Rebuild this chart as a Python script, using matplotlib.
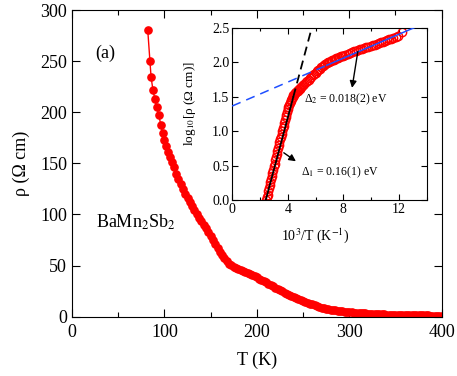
import matplotlib
matplotlib.use("Agg")
import matplotlib.pyplot as plt
import numpy as np
from matplotlib.ticker import MultipleLocator, FormatStrFormatter

plt.rcParams['font.family'] = ['Liberation Serif', 'DejaVu Serif']
plt.rcParams['mathtext.fontset'] = 'stix'

# ---- main data: rho(T) ----
T_K = [82, 84.3, 85.6, 87.6, 89.6, 91.8, 94, 96, 98, 100, 102, 104, 106, 108,
       110, 112.5, 115, 117.5, 120, 122.5, 125, 127.5, 130, 132.5, 135, 137.5, 140, 142.5,
       145, 147.5, 150, 152.5, 155, 157.5, 160, 162.5, 165, 167.5, 170, 172.5, 175, 177.5,
       180, 182.5, 185, 187.5, 190, 192.5, 195, 197.5, 200, 202.5, 205, 207.5, 210, 212.5,
       215, 217.5, 220, 222.5, 225, 227.5, 230, 232.5, 235, 237.5, 240, 242.5, 245, 247.5,
       250, 252.5, 255, 257.5, 260, 262.5, 265, 267.5, 270, 272.5, 275, 277.5, 280, 282.5,
       285, 287.5, 290, 292.5, 295, 297.5, 300, 302.5, 305, 307.5, 310, 312.5, 315, 317.5,
       320, 322.5, 325, 327.5, 330, 332.5, 335, 337.5, 340, 342.5, 345, 347.5, 350, 352.5,
       355, 357.5, 360, 362.5, 365, 367.5, 370, 372.5, 375, 377.5, 380, 382.5, 385, 387.5,
       390, 392.5, 395, 397.5, 400]
rho = [280, 250, 234, 222, 213, 205, 197, 188, 180, 173, 167, 161, 156, 151,
       146, 140, 135, 130, 125, 120, 116, 112, 108, 104, 100, 97, 94, 90,
       87, 83, 79, 75, 71, 67, 63, 60, 57, 54.5, 52, 50.5, 49, 47.5,
       46.5, 45.5, 44.5, 43.5, 42.5, 41.5, 40.5, 39.5, 38.5, 37.3, 36, 34.8, 33.5, 32.2,
       31, 29.7, 28.5, 27.2, 26, 24.7, 23.5, 22.2, 21, 20, 19, 18, 17, 16,
       15, 14.2, 13.5, 12.7, 12, 11.2, 10.5, 9.7, 9, 8.5, 8, 7.5, 7, 6.6,
       6.2, 5.8, 5.5, 5.2, 4.9, 4.6, 4.4, 4.2, 4.0, 3.8, 3.6, 3.45, 3.3, 3.15,
       3.0, 2.9, 2.75, 2.6, 2.5, 2.4, 2.3, 2.2, 2.1, 2.0, 1.95, 1.85, 1.8, 1.75,
       1.7, 1.65, 1.6, 1.55, 1.5, 1.45, 1.4, 1.35, 1.3, 1.28, 1.25, 1.22, 1.2, 1.17,
       1.15, 1.12, 1.1, 1.07, 1.05]

# ---- inset data: log10(rho) vs 1000/T ----
inv_T = [2.45, 2.50, 2.55, 2.60, 2.65, 2.70, 2.75, 2.80, 2.85, 2.90, 2.95, 3.00, 3.05, 3.10,
         3.15, 3.20, 3.25, 3.30, 3.35, 3.40, 3.45, 3.50, 3.55, 3.60, 3.65, 3.70, 3.75, 3.80,
         3.85, 3.90, 3.95, 4.00, 4.05, 4.10, 4.15, 4.20, 4.25, 4.30, 4.35, 4.40, 4.45, 4.50,
         4.55, 4.60, 4.65, 4.70, 4.75, 4.80, 4.85, 4.90, 4.95, 5.00, 5.1, 5.2, 5.3, 5.4,
         5.5, 5.6, 5.7, 5.8, 5.9, 6.0, 6.1, 6.2, 6.3, 6.4, 6.5, 6.6, 6.7, 6.8,
         6.9, 7.0, 7.1, 7.2, 7.3, 7.4, 7.5, 7.6, 7.7, 7.8, 7.9, 8.0, 8.15, 8.3,
         8.45, 8.6, 8.75, 8.9, 9.05, 9.2, 9.35, 9.5, 9.65, 9.8, 9.95, 10.1, 10.25, 10.4,
         10.55, 10.7, 10.85, 11.0, 11.15, 11.3, 11.45, 11.6, 11.75, 11.9, 12.2]
log_rho = [0.00, 0.04, 0.08, 0.13, 0.17, 0.22, 0.26, 0.31, 0.35, 0.40, 0.44, 0.49, 0.53, 0.58,
           0.62, 0.67, 0.71, 0.76, 0.80, 0.84, 0.88, 0.92, 0.96, 1.00, 1.04, 1.08, 1.12, 1.16,
           1.20, 1.24, 1.28, 1.32, 1.35, 1.38, 1.41, 1.44, 1.46, 1.48, 1.50, 1.52, 1.53, 1.55,
           1.56, 1.57, 1.58, 1.59, 1.60, 1.61, 1.62, 1.63, 1.64, 1.65, 1.67, 1.69, 1.71, 1.73,
           1.75, 1.77, 1.79, 1.81, 1.83, 1.85, 1.87, 1.89, 1.91, 1.93, 1.95, 1.96, 1.975, 1.99,
           2.00, 2.01, 2.02, 2.03, 2.04, 2.05, 2.06, 2.07, 2.08, 2.09, 2.095, 2.10, 2.115, 2.125,
           2.135, 2.15, 2.16, 2.165, 2.175, 2.19, 2.20, 2.21, 2.22, 2.23, 2.24, 2.25, 2.26, 2.27,
           2.28, 2.29, 2.30, 2.31, 2.32, 2.335, 2.345, 2.36, 2.375, 2.39, 2.44]

# ---- Arrhenius fits (log10 rho = a + b * 1000/T) ----
fit1_a, fit1_b = -1.83, 0.757     # Delta1 = 0.16(1) eV
fit1_solid = [2.42, 4.39]
fit1_dash = [4.39, 5.9]
fit2_a, fit2_b = 1.366, 0.087     # Delta2 = 0.018(2) eV
fit2_dash = [0.0, 6.8]
fit2_solid = [6.8, 13.3]

fig = plt.figure(figsize=(4.57, 3.76), dpi=100)
ax = fig.add_axes([0.1575, 0.1577, 0.809, 0.8157])
red = '#ff0000'
ax.plot(T_K, rho, '-', color=red, lw=1.0, marker='o', ms=5.2, mec=red, mfc=red)
ax.set_xlim(0, 400)
ax.set_ylim(0, 300)
ax.xaxis.set_major_locator(MultipleLocator(100))
ax.xaxis.set_minor_locator(MultipleLocator(50))
ax.yaxis.set_major_locator(MultipleLocator(50))
ax.tick_params(which='both', direction='in', top=True, right=True, labelsize=13, width=0.8)
ax.tick_params(which='major', length=6)
ax.tick_params(which='minor', length=3.5)
ax.tick_params(axis='x', pad=5)
ax.set_xlabel('T (K)', fontsize=13, labelpad=8)
ax.set_ylabel('ρ (Ω cm)', fontsize=13, labelpad=7)
ax.text(25, 258, '(a)', fontsize=13, va='center', ha='left')
ax.text(26, 92, 'BaMn$_2$Sb$_2$', fontsize=13, va='center', ha='left')

ins = fig.add_axes([0.508, 0.468, 0.426, 0.4575])
ins.plot(inv_T, log_rho, 'o', ms=6, mfc='none', mec=red, mew=1.0, zorder=2)

def seg(a, b, rng):
    u = np.array(rng)
    return u, a + b * u

u, L = seg(fit1_a, fit1_b, fit1_solid)
ins.plot(u, L, '-', color='black', lw=1.3, zorder=3)
u, L = seg(fit1_a, fit1_b, fit1_dash)
ins.plot(u, L, '--', color='black', lw=1.3, dashes=(5, 3), zorder=3)
u, L = seg(fit2_a, fit2_b, fit2_dash)
ins.plot(u, L, '--', color='#1f4fff', lw=1.1, dashes=(6, 4), zorder=3)
u, L = seg(fit2_a, fit2_b, fit2_solid)
ins.plot(u, L, '-', color='#1f4fff', lw=1.1, zorder=3)

ins.set_xlim(0, 14)
ins.set_ylim(0, 2.5)
ins.xaxis.set_major_locator(MultipleLocator(4))
ins.xaxis.set_minor_locator(MultipleLocator(2))
ins.yaxis.set_major_locator(MultipleLocator(0.5))
ins.yaxis.set_major_formatter(FormatStrFormatter('%.1f'))
ins.tick_params(which='both', direction='in', top=True, right=True, labelsize=10, width=0.8, pad=2)
ins.tick_params(which='major', length=4.5)
ins.tick_params(which='minor', length=2.5)
ins.set_xlabel('10$^3$/T (K$^{-1}$)', fontsize=10)
ins.xaxis.set_label_coords(0.425, -0.15)
ins.set_ylabel('log$_{10}$[ρ (Ω cm)]', fontsize=9.5)
ins.yaxis.set_label_coords(-0.176, 0.558)

ins.annotate('', xy=(8.59, 1.59), xytext=(9.07, 2.20),
             arrowprops=dict(arrowstyle='-|>', color='black', lw=1.0, mutation_scale=10))
ins.text(5.16, 1.46, 'Δ$_2$ = 0.018(2) eV', fontsize=8.5, va='center', ha='left')
ins.annotate('', xy=(4.75, 0.54), xytext=(3.55, 0.71),
             arrowprops=dict(arrowstyle='-|>', color='black', lw=1.0, mutation_scale=10))
ins.text(4.92, 0.41, 'Δ$_1$ = 0.16(1) eV', fontsize=8.5, va='center', ha='left')

fig.savefig('out.png', dpi=100)
